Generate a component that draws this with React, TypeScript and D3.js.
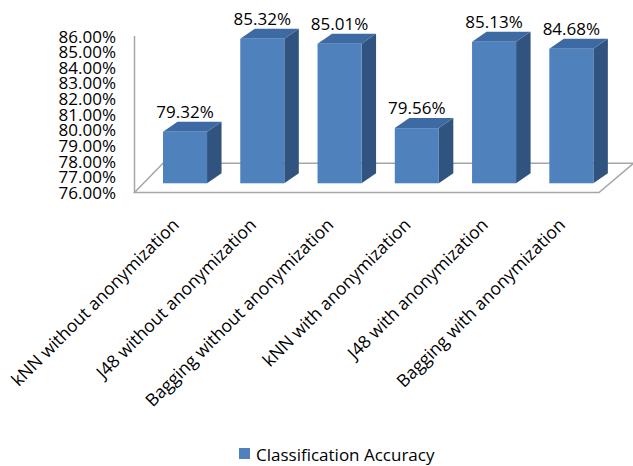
import React from "react";
import * as d3 from "d3";

const categories = [
  "kNN without anonymization",
  "J48 without anonymization",
  "Bagging without anonymization",
  "kNN with anonymization",
  "J48 with anonymization",
  "Bagging with anonymization",
];
const accuracy = [79.32, 85.32, 85.01, 79.56, 85.13, 84.68];
const yTicks = [76, 77, 78, 79, 80, 81, 82, 83, 84, 85, 86];
const seriesName = "Classification Accuracy";

const W = 633;
const H = 466;
const FONT = "'Open Sans', sans-serif";
const FS = 17;
const FS_CAT = 17.5;

const FRONT = "#4F81BD";
const TOP = "#3D6AA3";
const SIDE = "#30537F";
const GRID = "#A6A6A6";

export default function App() {
  const x = d3
    .scaleBand<string>()
    .domain(categories)
    .range([146.4, 146.4 + 6 * 77.26])
    .paddingInner(0.43)
    .paddingOuter(0.215);
  const yBar = d3.scaleLinear().domain([76, 86]).range([183.3, 28.3]);
  const yAxis = d3.scaleLinear().domain([76, 86]).range([192.5, 36]);
  const fmt = (v: number) => d3.format(".2f")(v) + "%";

  const axisX = 134.5;
  const floorFrontRight = 599;
  const floorDx = 28.5;
  const floorDy = -29.2;
  const dx = 14.5;
  const dy = -10;
  const bw = x.bandwidth();
  const base = yBar(76);
  const floorY = yAxis(76);

  const floorPts = [
    [axisX, floorY],
    [axisX + floorDx, floorY + floorDy],
    [floorFrontRight + floorDx + 6, floorY + floorDy],
    [floorFrontRight, floorY],
  ]
    .map((p) => p.join(","))
    .join(" ");

  return (
    <svg
      width={W}
      height={H}
      style={{ position: "absolute", left: 0, top: 0, background: "#fff" }}
      fontFamily={FONT}
    >
      <rect x={0} y={0} width={W} height={H} fill="#fff" />
      {/* floor */}
      <polygon points={floorPts} fill="#fff" stroke={GRID} strokeWidth={1.5} />
      {/* vertical axis line */}
      <line x1={axisX} x2={axisX} y1={yAxis(86)} y2={floorY} stroke={GRID} strokeWidth={1.5} />
      {/* tick labels */}
      {yTicks.map((t) => (
        <text
          key={t}
          x={116}
          y={yAxis(t)}
          textAnchor="end"
          dominantBaseline="central"
          fontSize={FS}
          fill="#000"
        >
          {fmt(t)}
        </text>
      ))}
      {/* bars */}
      {categories.map((c, i) => {
        const x0 = x(c) as number;
        const yt = yBar(accuracy[i]);
        const top = [
          [x0, yt],
          [x0 + dx, yt + dy],
          [x0 + bw + dx, yt + dy],
          [x0 + bw, yt],
        ]
          .map((p) => p.join(","))
          .join(" ");
        const side = [
          [x0 + bw, yt],
          [x0 + bw + dx, yt + dy],
          [x0 + bw + dx, base + dy],
          [x0 + bw, base],
        ]
          .map((p) => p.join(","))
          .join(" ");
        return (
          <g key={c}>
            <polygon points={side} fill={SIDE} />
            <polygon points={top} fill={TOP} />
            <rect x={x0} y={yt} width={bw} height={base - yt} fill={FRONT} />
            <text
              x={x0 + bw / 2}
              y={yt - 14}
              textAnchor="middle"
              fontSize={FS}
              fill="#000"
            >
              {fmt(accuracy[i])}
            </text>
          </g>
        );
      })}
      {/* category labels */}
      {categories.map((c) => {
        const cx = (x(c) as number) + bw / 2 - 5;
        const cy = 226;
        return (
          <text
            key={"l" + c}
            x={cx}
            y={cy}
            textAnchor="end"
            fontSize={FS_CAT}
            fill="#000"
            transform={`rotate(-45 ${cx} ${cy})`}
          >
            {c}
          </text>
        );
      })}
      {/* legend */}
      <rect x={239} y={448} width={11} height={11} fill={FRONT} />
      <text x={256} y={454} dominantBaseline="central" fontSize={FS} fill="#000">
        {seriesName}
      </text>
    </svg>
  );
}
